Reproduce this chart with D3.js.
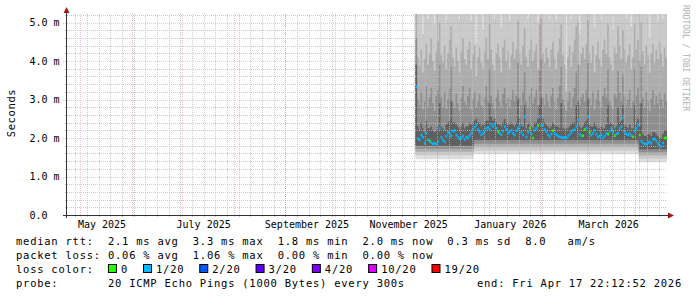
<!DOCTYPE html>
<html>
<head>
<meta charset="utf-8">
<title>Smokeping latency</title>
<style>
  html, body { margin: 0; padding: 0; background: #fff; }
  svg { display: block; }
  text { font-family: "DejaVu Sans Mono", monospace; white-space: pre; }
</style>
<script src="https://cdn.jsdelivr.net/npm/d3@7/dist/d3.min.js"></script>
</head>
<body>
<svg id="chart" width="697" height="297"></svg>
<script>
// ---- data ----
const END_TIME = Date.UTC(2026, 3, 17, 22, 12, 52);
const SPAN_DAYS = 360;
const FIRST_DAY = Date.UTC(2025, 10, 18);   // first day with measurements

// daily median rtt, ms
const medianMs = [
  3.33, 1.98, 1.95, 2.08, 2.02, 1.87, 2.12, 1.95, 1.92, 1.88,
  1.85, 1.86, 1.84, 1.90, 2.25, 2.02, 1.95, 1.90, 2.05, 2.15,
  2.10, 2.05, 2.18, 2.20, 2.08, 2.02, 1.98, 2.00, 2.05, 1.96,
  2.02, 2.00, 2.06, 2.12, 2.20, 2.28, 2.34, 2.22, 2.15, 2.08,
  2.12, 2.18, 2.25, 2.28, 2.22, 2.36, 2.30, 2.36, 2.25, 2.16,
  2.12, 2.08, 2.18, 2.30, 2.22, 2.12, 2.16, 2.20, 2.12, 2.08,
  2.18, 2.25, 2.32, 2.15, 2.08, 2.55, 2.03, 2.15, 2.26, 2.10,
  2.00, 2.20, 2.25, 2.32, 2.55, 2.33, 2.33, 2.22, 2.16, 2.08,
  2.03, 2.10, 2.19, 2.12, 2.08, 2.05, 2.03, 2.02, 2.00, 2.02,
  2.00, 2.05, 2.10, 2.15, 2.20, 2.22, 2.30, 2.47, 2.10, 2.05,
  2.06, 2.22, 2.26, 2.55, 2.15, 2.08, 2.12, 2.20, 2.10, 2.03,
  2.05, 2.08, 2.00, 2.05, 2.12, 2.10, 2.18, 2.25, 2.15, 2.06,
  2.10, 2.12, 2.25, 2.30, 2.52, 2.15, 2.10, 2.08, 2.12, 2.06,
  2.03, 2.18, 2.25, 2.33, 2.08, 1.92, 1.87, 1.85, 1.84, 1.88,
  1.90, 1.86, 1.97, 1.97, 1.92, 1.85, 1.80, 1.78, 1.87, 2.00, 2.00
];

// lost pings out of 20 per day (as coloured)
const lossCount = [
  1, 1, 1, 1, 1, 1, 1, 1, 0, 1,
  1, 1, 1, 1, 1, 1, 1, 1, 1, 1,
  1, 1, 1, 1, 1, 1, 1, 1, 1, 1,
  1, 1, 1, 1, 1, 1, 1, 1, 1, 1,
  1, 1, 1, 1, 1, 1, 1, 1, 1, 0,
  1, 1, 1, 1, 1, 1, 1, 1, 1, 1,
  1, 1, 1, 1, 1, 1, 1, 1, 0, 1,
  0, 1, 1, 0, 1, 1, 1, 1, 1, 1,
  1, 1, 0, 1, 1, 1, 1, 1, 1, 1,
  1, 1, 1, 1, 1, 1, 1, 1, 1, 1,
  0, 0, 1, 1, 0, 1, 1, 1, 1, 1,
  1, 1, 1, 1, 1, 0, 1, 1, 1, 0,
  1, 1, 1, 1, 1, 1, 1, 1, 1, 1,
  0, 1, 1, 1, 0, 1, 1, 1, 1, 1,
  1, 1, 1, 1, 1, 1, 1, 1, 1, 0, 0
];

// upper edges of the smoke bands, ms (outer -> inner)
const smokeHigh1 = [
  5.60, 5.60, 5.60, 5.60, 4.70, 5.60, 5.60, 5.10, 5.60, 5.60,
  5.60, 4.95, 5.60, 5.60, 5.60, 5.60, 5.60, 5.60, 5.05, 5.60,
  5.60, 5.60, 5.60, 5.60, 5.60, 5.60, 5.10, 5.60, 5.60, 5.60,
  5.60, 5.60, 5.60, 5.05, 5.60, 5.60, 4.45, 5.60, 5.60, 5.60,
  4.80, 5.60, 5.60, 5.60, 5.60, 5.60, 5.60, 5.10, 5.60, 5.60,
  5.60, 4.90, 5.60, 5.60, 5.60, 5.60, 5.05, 5.60, 5.60, 5.60,
  5.60, 5.60, 5.60, 5.60, 5.60, 5.60, 5.60, 5.10, 5.60, 5.60,
  5.60, 5.60, 5.60, 5.00, 5.60, 5.60, 5.60, 5.60, 5.60, 5.60,
  5.10, 5.60, 5.60, 5.60, 5.05, 5.60, 5.60, 5.60, 5.60, 5.60,
  3.80, 5.60, 5.60, 5.10, 5.60, 5.60, 5.60, 5.60, 4.70, 5.60,
  5.60, 5.60, 5.60, 5.60, 5.60, 5.60, 5.60, 4.90, 5.60, 5.60,
  5.60, 5.05, 5.60, 5.60, 5.60, 5.60, 5.60, 5.60, 4.80, 5.60,
  5.60, 5.60, 5.60, 5.60, 5.60, 5.60, 5.10, 5.60, 5.60, 4.90,
  5.60, 5.60, 5.60, 5.60, 5.60, 5.60, 5.60, 5.60, 5.60, 5.60,
  4.60, 5.60, 5.60, 5.60, 5.60, 5.05, 5.60, 5.60, 5.10, 5.60, 5.60
];
const smokeHigh2 = [
  5.40, 4.10, 3.85, 4.30, 3.70, 4.05, 4.45, 3.90, 4.20, 4.60,
  4.00, 3.75, 4.25, 4.50, 5.00, 4.15, 3.95, 4.40, 3.80, 4.20,
  4.55, 4.90, 4.10, 3.85, 4.35, 4.00, 3.70, 4.25, 4.60, 4.05,
  3.90, 4.30, 4.50, 3.80, 4.15, 4.40, 3.60, 4.10, 4.35, 3.95,
  3.80, 4.25, 4.60, 4.05, 4.95, 4.30, 3.90, 3.75, 4.20, 4.45,
  4.10, 3.70, 4.35, 4.55, 4.00, 4.25, 3.80, 4.15, 4.50, 4.05,
  4.30, 5.05, 4.20, 3.90, 4.40, 4.85, 4.10, 3.85, 4.30, 4.55,
  4.00, 4.25, 4.45, 3.80, 4.95, 5.10, 4.20, 3.95, 4.35, 4.10,
  3.85, 4.30, 4.50, 4.05, 3.80, 4.25, 4.60, 4.95, 4.15, 3.90,
  3.20, 4.10, 4.40, 3.85, 4.25, 4.55, 4.90, 5.00, 3.90, 4.20,
  4.35, 4.05, 4.45, 5.05, 4.20, 3.95, 4.40, 3.70, 4.15, 4.50,
  4.05, 3.85, 4.30, 4.55, 4.20, 4.95, 4.10, 3.90, 3.75, 4.35,
  4.20, 4.90, 4.40, 4.05, 4.80, 4.30, 3.95, 4.15, 4.45, 3.80,
  4.10, 4.95, 4.30, 4.55, 4.00, 5.00, 4.25, 3.90, 4.40, 4.15,
  3.70, 4.20, 4.45, 3.95, 4.30, 4.05, 4.50, 4.20, 3.85, 4.35, 4.10
];
const smokeHigh3 = [
  4.60, 3.00, 2.85, 3.20, 2.75, 2.95, 3.35, 2.80, 3.05, 3.30,
  2.90, 2.70, 3.10, 3.25, 3.90, 3.05, 2.80, 3.20, 2.75, 3.00,
  3.30, 3.85, 2.95, 2.80, 3.15, 2.90, 2.70, 3.05, 3.35, 2.95,
  2.85, 3.10, 3.30, 2.75, 3.00, 3.20, 2.80, 2.95, 3.15, 2.85,
  2.80, 3.05, 3.35, 2.95, 3.80, 3.10, 2.90, 2.75, 3.05, 3.25,
  2.95, 2.80, 3.15, 3.30, 2.90, 3.05, 2.80, 3.00, 3.25, 2.95,
  3.10, 3.95, 3.05, 2.85, 3.20, 3.70, 2.95, 2.80, 3.10, 3.30,
  2.90, 3.05, 3.25, 2.85, 3.75, 4.05, 3.05, 2.85, 3.15, 2.95,
  2.80, 3.10, 3.30, 2.95, 2.75, 3.05, 3.35, 3.85, 3.00, 2.85,
  2.70, 2.95, 3.20, 2.80, 3.05, 3.30, 3.70, 3.90, 2.85, 3.05,
  3.15, 2.95, 3.25, 3.95, 3.05, 2.85, 3.20, 2.75, 3.00, 3.25,
  2.95, 2.80, 3.10, 3.30, 3.05, 3.80, 2.95, 2.85, 2.75, 3.15,
  3.05, 3.75, 3.20, 2.95, 3.65, 3.10, 2.85, 3.00, 3.25, 2.80,
  2.95, 3.80, 3.10, 3.30, 2.90, 3.85, 3.05, 2.80, 3.20, 2.95,
  2.70, 3.00, 3.25, 2.85, 3.10, 2.90, 3.20, 3.00, 2.80, 3.15, 2.95
];
const smokeHigh4 = [
  3.90, 2.30, 2.20, 2.40, 2.25, 2.15, 2.45, 2.25, 2.25, 2.30,
  2.20, 2.15, 2.20, 2.30, 2.90, 2.30, 2.25, 2.20, 2.35, 2.40,
  2.45, 2.95, 2.40, 2.40, 2.35, 2.30, 2.25, 2.30, 2.40, 2.25,
  2.30, 2.30, 2.40, 2.35, 2.40, 2.45, 2.50, 2.40, 2.40, 2.30,
  2.35, 2.40, 2.45, 2.45, 2.90, 2.55, 2.45, 2.50, 2.40, 2.35,
  2.35, 2.30, 2.40, 2.50, 2.40, 2.35, 2.35, 2.40, 2.35, 2.30,
  2.40, 3.00, 2.50, 2.35, 2.30, 2.85, 2.25, 2.35, 2.40, 2.30,
  2.25, 2.40, 2.40, 2.50, 2.85, 3.05, 2.50, 2.40, 2.35, 2.30,
  2.25, 2.30, 2.40, 2.35, 2.30, 2.30, 2.25, 2.90, 2.25, 2.25,
  2.25, 2.25, 2.30, 2.35, 2.40, 2.40, 2.85, 2.95, 2.30, 2.25,
  2.30, 2.40, 2.45, 3.00, 2.35, 2.30, 2.30, 2.40, 2.30, 2.25,
  2.25, 2.30, 2.25, 2.25, 2.35, 2.85, 2.35, 2.40, 2.35, 2.25,
  2.30, 2.80, 2.40, 2.45, 2.85, 2.35, 2.30, 2.25, 2.35, 2.25,
  2.25, 2.85, 2.40, 2.50, 2.30, 2.90, 2.10, 2.05, 2.05, 2.10,
  2.10, 2.05, 2.15, 2.15, 2.10, 2.05, 2.00, 2.00, 2.10, 2.20, 2.20
];

// lower edges of the smoke, piecewise per period: [floor, band1, band2, band3, band4]
const lowSegmentStart = ['2025-11-18', '2025-12-23', '2026-04-01'];
const lowSegmentEdges = [
  [1.45, 1.55, 1.64, 1.72, 1.80],
  [1.58, 1.67, 1.76, 1.85, 1.95],
  [1.37, 1.46, 1.55, 1.63, 1.71]
];

const yTicks = [0, 1, 2, 3, 4, 5];
const labelMonths = ['2025-05-01', '2025-07-01', '2025-09-01', '2025-11-01', '2026-01-01', '2026-03-01'];

const rttValues = [2.1, 3.3, 1.8, 2.0, 0.3];
const rttNames = ['avg', 'max', 'min', 'now', 'sd'];
const amPerSec = 8.0;
const lossValues = [0.06, 1.06, 0.00, 0.00];
const lossNames = ['avg', 'max', 'min', 'now'];
const lossLabels = ['0', '1/20', '2/20', '3/20', '4/20', '10/20', '19/20'];
const lossColors = ['#26ff00', '#00b8ff', '#0059ff', '#5e00ff', '#7e00ff', '#dd00ff', '#ff0000'];
const probeText = '20 ICMP Echo Pings (1000 Bytes) every 300s';
const endText = 'end: Fri Apr 17 22:12:52 2026';

// ---- drawing ----
const svg = d3.select('#chart');
const DAY = 86400000;
const plotLeft = 67, plotRight = 667, plotTop = 14, plotBottom = 215;

const x = d3.scaleUtc()
  .domain([new Date(END_TIME - SPAN_DAYS * DAY), new Date(END_TIME)])
  .range([plotLeft, plotRight]);
const y = d3.scaleLinear()
  .domain([0, (plotBottom - plotTop) / 38.5])
  .range([plotBottom, plotTop]);
const yMax = y.domain()[1];

svg.append('clipPath').attr('id', 'plot')
  .append('rect').attr('x', plotLeft).attr('y', plotTop)
  .attr('width', plotRight - plotLeft).attr('height', plotBottom - plotTop);

// rows of daily data
const segStarts = lowSegmentStart.map(s => Date.parse(s));
const rows = medianMs.map((m, i) => {
  const t = FIRST_DAY + i * DAY;
  let s = 0;
  segStarts.forEach((st, k) => { if (t >= st) s = k; });
  return {
    t: new Date(t), median: m, loss: lossCount[i], low: lowSegmentEdges[s],
    high: [99, smokeHigh1[i], smokeHigh2[i], smokeHigh3[i], smokeHigh4[i]]
  };
});
// closing point so the last day gets its width
rows.push(Object.assign({}, rows[rows.length - 1], { t: new Date(FIRST_DAY + medianMs.length * DAY) }));

const bandColors = ['#dedede', '#cbcbcb', '#adadad', '#8e8e8e', '#5f5f5f'];
const smoke = svg.append('g').attr('clip-path', 'url(#plot)');
bandColors.forEach((c, b) => {
  const area = d3.area()
    .curve(d3.curveStepAfter)
    .x(d => x(d.t))
    .y0(d => y(d.low[b]))
    .y1(d => y(Math.min(d.high[b], yMax + 0.1)));
  smoke.append('path').datum(rows).attr('d', area).attr('fill', c);
});

// grid (drawn over the smoke, like rrdtool does)
const minorColor = 'rgba(190,190,190,0.8)';
const majorColor = 'rgba(220,90,90,0.35)';
const grid = svg.append('g');
const minorY = d3.range(1, 27).map(v => v / 5).filter(v => Math.abs(v - Math.round(v)) > 1e-6 && v <= yMax);
grid.selectAll('.hmin').data(minorY).join('line')
  .attr('x1', plotLeft - 2).attr('x2', plotRight)
  .attr('y1', d => Math.round(y(d)) + 0.5).attr('y2', d => Math.round(y(d)) + 0.5)
  .attr('stroke', minorColor).attr('stroke-dasharray', '1,1');
const weeks = d3.utcMonday.range(x.domain()[0], x.domain()[1]);
grid.selectAll('.vmin').data(weeks).join('line')
  .attr('x1', d => Math.round(x(d)) + 0.5).attr('x2', d => Math.round(x(d)) + 0.5)
  .attr('y1', plotTop).attr('y2', plotBottom + 2)
  .attr('stroke', minorColor).attr('stroke-dasharray', '1,1');
const months = d3.utcMonth.range(x.domain()[0], x.domain()[1]);
grid.selectAll('.vmaj').data(months).join('line')
  .attr('x1', d => Math.round(x(d)) + 0.5).attr('x2', d => Math.round(x(d)) + 0.5)
  .attr('y1', plotTop).attr('y2', plotBottom + 3)
  .attr('stroke', majorColor).attr('stroke-dasharray', '1,1');
grid.selectAll('.hmaj').data(yTicks.filter(v => v > 0)).join('line')
  .attr('x1', plotLeft - 4).attr('x2', plotRight)
  .attr('y1', d => Math.round(y(d)) + 0.5).attr('y2', d => Math.round(y(d)) + 0.5)
  .attr('stroke', majorColor).attr('stroke-dasharray', '1,1');

// median, coloured by loss
const colorOf = n => lossColors[Math.max(0, lossLabels.indexOf(n === 0 ? '0' : n + '/20'))];
svg.append('g').attr('clip-path', 'url(#plot)')
  .selectAll('rect').data(rows.slice(0, -1)).join('rect')
  .attr('x', d => x(d.t))
  .attr('width', d => x(new Date(+d.t + DAY)) - x(d.t) + 0.2)
  .attr('y', d => y(d.median) - 1.3)
  .attr('height', 2.6)
  .attr('fill', d => colorOf(d.loss));

// axes
const axisColor = '#333';
svg.append('line').attr('x1', plotLeft - 0.5).attr('x2', plotLeft - 0.5)
  .attr('y1', plotTop - 1).attr('y2', plotBottom + 3).attr('stroke', axisColor);
svg.append('line').attr('x1', plotLeft - 4).attr('x2', plotRight + 2)
  .attr('y1', plotBottom + 0.5).attr('y2', plotBottom + 0.5).attr('stroke', axisColor);
svg.append('path')
  .attr('d', `M${plotLeft - 3.5},${plotTop - 1}L${plotLeft + 2.5},${plotTop - 1}L${plotLeft - 0.5},${plotTop - 7}Z`)
  .attr('fill', '#a01818');
svg.append('path')
  .attr('d', `M${plotRight + 1},${plotBottom - 2.5}L${plotRight + 1},${plotBottom + 3.5}L${plotRight + 7},${plotBottom + 0.5}Z`)
  .attr('fill', '#a01818');

const xAxis = svg.append('g').attr('transform', `translate(0,${plotBottom})`)
  .call(d3.axisBottom(x)
    .tickValues(labelMonths.map(s => new Date(Date.parse(s))))
    .tickFormat(d3.utcFormat('%B %Y'))
    .tickSize(0).tickPadding(6));
xAxis.select('.domain').remove();
xAxis.selectAll('text').attr('dx', 21).attr('fill', '#000')
  .attr('font-family', '"DejaVu Sans Mono", monospace').attr('font-size', 10);

const yAxis = svg.append('g').attr('transform', `translate(${plotLeft - 0.5},0)`)
  .call(d3.axisLeft(y).tickValues(yTicks)
    .tickFormat(v => v === 0 ? '0.0  ' : v.toFixed(1) + ' m')
    .tickSize(0).tickPadding(7));
yAxis.select('.domain').remove();
yAxis.selectAll('text').attr('fill', '#000')
  .attr('font-family', '"DejaVu Sans Mono", monospace').attr('font-size', 10);

svg.append('text')
  .attr('transform', 'translate(15,113) rotate(-90)')
  .attr('text-anchor', 'middle').attr('font-size', 10.5).attr('letter-spacing', 0.6)
  .text('Seconds');

svg.append('text')
  .attr('transform', 'translate(683,5) rotate(90)')
  .attr('font-size', 8).attr('fill', '#b0b0b0')
  .text('RRDTOOL / TOBI OETIKER');

// legend
const LS = 0.75, FS = 10.5, CW = FS * 0.602 + LS, LX = 16;
const legend = svg.append('g').attr('font-size', FS).attr('letter-spacing', LS).attr('fill', '#000');
const line1 = 'median rtt:  ' + rttValues.map((v, i) => v.toFixed(1) + ' ms ' + rttNames[i]).join('  ')
  + '  ' + amPerSec.toFixed(1) + '   am/s';
const line2 = 'packet loss: ' + lossValues.map((v, i) => v.toFixed(2) + ' % ' + lossNames[i]).join('  ');
legend.append('text').attr('x', LX).attr('y', 244.5).text(line1);
legend.append('text').attr('x', LX).attr('y', 258.5).text(line2);
legend.append('text').attr('x', LX).attr('y', 272.5).text('loss color:');
let bx = LX + 13 * CW;
lossLabels.forEach((l, i) => {
  legend.append('rect').attr('x', bx + 0.5).attr('y', 264.5).attr('width', 8).attr('height', 8)
    .attr('fill', lossColors[i]).attr('stroke', '#000');
  legend.append('text').attr('x', bx + 13).attr('y', 272.5).text(l);
  bx += 13 + l.length * CW + 15;
});
legend.append('text').attr('x', LX).attr('y', 286.5).text('probe:       ' + probeText);
legend.append('text').attr('x', 682).attr('y', 286.5).attr('text-anchor', 'end').text(endText);
</script>
</body>
</html>
